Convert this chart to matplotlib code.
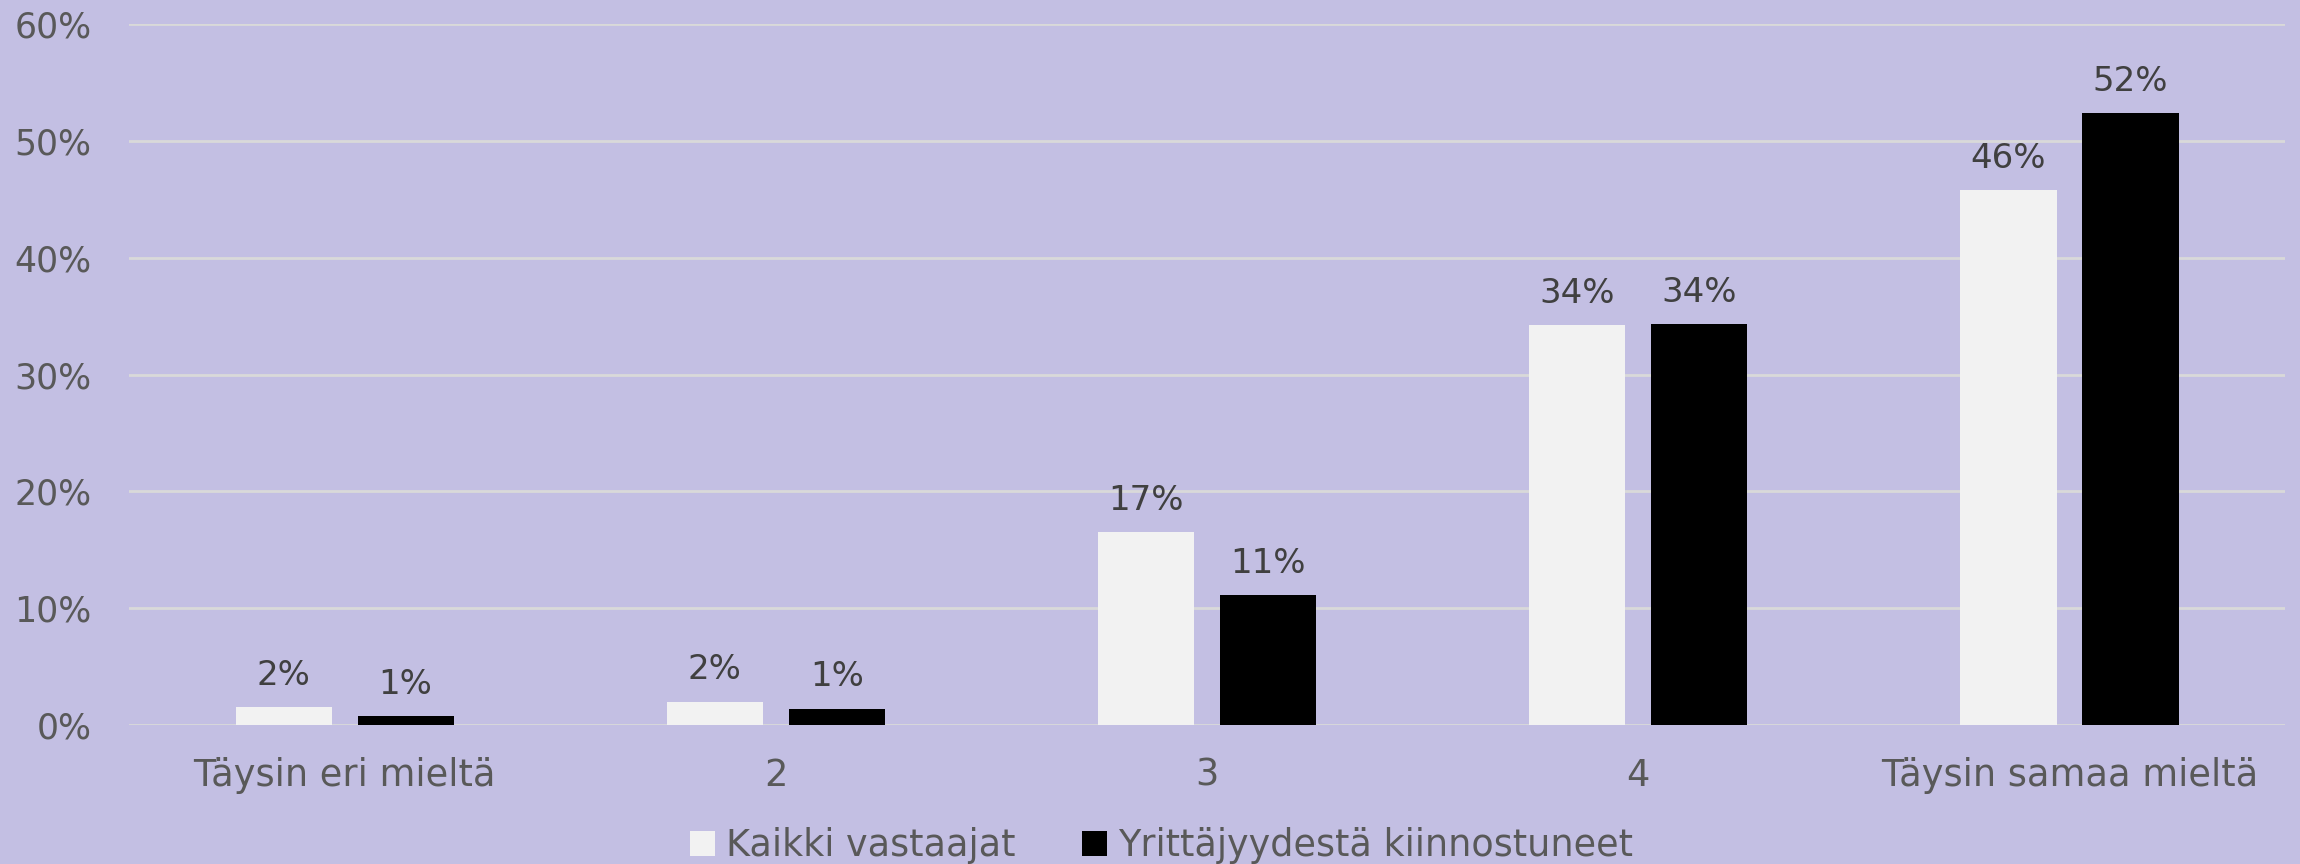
import numpy as np
import matplotlib.pyplot as plt
from matplotlib.ticker import PercentFormatter

categories = ["Täysin eri mieltä", "2", "3", "4", "Täysin samaa mieltä"]
kaikki = [1.5, 2.0, 16.5, 34.2, 45.8]
yrittajat = [0.75, 1.4, 11.1, 34.3, 52.4]
kaikki_lbl = ["2%", "2%", "17%", "34%", "46%"]
yrittajat_lbl = ["1%", "1%", "11%", "34%", "52%"]
series_names = ["Kaikki vastaajat", "Yrittäjyydestä kiinnostuneet"]

bg = "#C3BFE3"
grid_c = "#D9D9D9"
tick_c = "#595959"
lbl_c = "#404040"

plt.rcParams['font.family'] = ['DejaVu Sans']

fig = plt.figure(figsize=(23, 8.64), dpi=100, facecolor=bg)
ax = fig.add_axes([0.0561, 0.1609, 0.9374, 0.8113])
ax.set_facecolor(bg)

x = np.arange(len(categories))
w = 0.223
off = 0.1415
b1 = ax.bar(x - off, kaikki, w, color="#F2F2F2", label=series_names[0], zorder=3)
b2 = ax.bar(x + off, yrittajat, w, color="#000000", label=series_names[1], zorder=3)

for bars, labels in ((b1, kaikki_lbl), (b2, yrittajat_lbl)):
    for r, t in zip(bars, labels):
        ax.annotate(t, (r.get_x() + r.get_width() / 2, r.get_height()),
                    xytext=(0, 11), textcoords="offset points",
                    ha="center", va="bottom", fontsize=24.5, color=lbl_c)

ax.set_xlim(-0.5, len(categories) - 0.5)
ax.set_ylim(0, 60)
ax.set_yticks(np.arange(0, 61, 10))
ax.yaxis.set_major_formatter(PercentFormatter(decimals=0))
ax.set_xticks(x)
ax.set_xticklabels(categories)
ax.tick_params(axis="both", length=0, colors=tick_c)
ax.tick_params(axis="y", pad=27, labelsize=25)
ax.tick_params(axis="x", pad=23, labelsize=26.5)
ax.grid(axis="y", color=grid_c, linewidth=2, zorder=0)
for s in ax.spines.values():
    s.set_visible(False)

fig.legend(loc="center", bbox_to_anchor=(0.505, 0.021), ncol=2, frameon=False,
           fontsize=26.3, labelcolor=tick_c, handlelength=0.7, handleheight=0.7,
           handletextpad=0.3, columnspacing=1.8)

fig.savefig("out.png", dpi=100, facecolor=bg)
